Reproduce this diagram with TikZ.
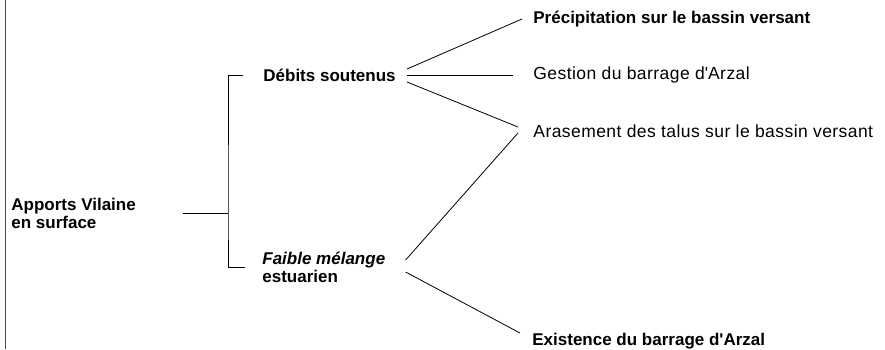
\documentclass[tikz,border=0pt]{standalone}
\usepackage{fontspec}
\setmainfont{Liberation Sans}

\begin{document}
\begin{tikzpicture}[x=1pt, y=-1pt, line width=0.8pt, every node/.style={inner sep=0pt, anchor=west, font=\fontsize{17}{18}\selectfont}]
  \tikzstyle{cause} = [font=\fontsize{17}{18}\selectfont\bfseries, align=left]
  \tikzstyle{factor} = [font=\fontsize{17.5}{18}\selectfont\addfontfeatures{LetterSpace=2.5}]
  \useasboundingbox (0,0) rectangle (885,349);
  \draw[line width=0.6pt, black!70] (5,0) -- (5,349);
  \node [cause] (apports) at (11,213) {Apports Vilaine\\en surface};
  \node [cause] (debits) at (263,75) {Débits soutenus};
  \node [cause] (melange) at (262,267) {\itshape Faible mélange\\estuarien};
  \node [cause] (precip) at (533,19) {Précipitation sur le bassin versant};
  \node [factor] (gestion) at (533,75) {Gestion du barrage d\textquotesingle Arzal};
  \node [factor] (arasement) at (533,131) {Arasement des talus sur le bassin versant};
  \node [cause] (existence) at (532,341) {Existence du barrage d\textquotesingle Arzal};
  \coordinate (fork) at (228,213);
  \draw ([xshift=47pt]apports.east) -- (fork);
  \draw ([xshift=-20pt]debits.west) -| (fork) |- ([xshift=-17pt]melange.west);
  \draw ([xshift=11pt,yshift=6pt]debits.east) -- ([xshift=-11pt]precip.west);
  \draw ([xshift=11pt]debits.east) -- ([xshift=-20pt]gestion.west);
  \draw ([xshift=11pt,yshift=-7pt]debits.east) -- ([xshift=-15pt,yshift=4pt]arasement.west);
  \draw ([xshift=20pt,yshift=7pt]melange.east) -- ([xshift=-15pt,yshift=-2pt]arasement.west);
  \draw ([xshift=20pt,yshift=-5pt]melange.east) -- ([xshift=-12pt,yshift=8pt]existence.west);
\end{tikzpicture}
\end{document}
